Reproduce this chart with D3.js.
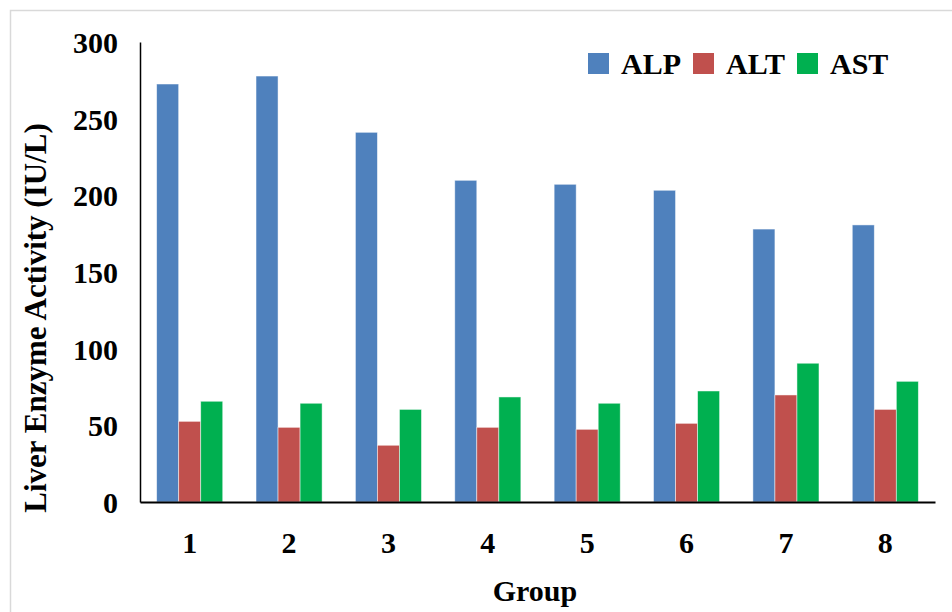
<!DOCTYPE html>
<html>
<head>
<meta charset="utf-8">
<script src="https://cdn.jsdelivr.net/npm/d3@7"></script>
<style>
  body { margin: 0; background: #fff; }
  svg text { font-family: "Liberation Serif", "DejaVu Serif", serif; font-weight: bold; fill: #000; }
</style>
</head>
<body>
<svg id="chart"></svg>
<script>
const groups = ["1", "2", "3", "4", "5", "6", "7", "8"];
const series = ["ALP", "ALT", "AST"];
const alp = [272.6, 277.8, 241.1, 209.8, 207.2, 203.3, 178, 180.7];
const alt = [52.6, 48.7, 37, 48.7, 47.4, 51.3, 69.8, 60.4];
const ast = [65.7, 64.4, 60.4, 68.5, 64.4, 72.4, 90.5, 78.7];
const yTicks = [0, 50, 100, 150, 200, 250, 300];
const colors = ["#4f81bd", "#c0504d", "#00b050"];

const width = 952, height = 612;
const plotLeft = 140, plotRight = 935, plotTop = 42, plotBottom = 502;

const svg = d3.select("#chart").attr("width", width).attr("height", height);

// light frame round the chart
svg.append("rect")
  .attr("x", 10.5).attr("y", 10.5)
  .attr("width", 960).attr("height", 640)
  .attr("fill", "none").attr("stroke", "#d9d9d9").attr("stroke-width", 1.5);

const x0 = d3.scaleBand().domain(groups).range([plotLeft, plotRight])
  .paddingInner(0.335).paddingOuter(0.1675);
const x1 = d3.scaleBand().domain(series).range([0, x0.bandwidth()]);
const y = d3.scaleLinear().domain([0, 300]).range([plotBottom, plotTop]);
const color = d3.scaleOrdinal().domain(series).range(colors);

const values = {ALP: alp, ALT: alt, AST: ast};
const rows = groups.map((g, i) => ({group: g, vals: series.map(s => ({key: s, value: values[s][i]}))}));

const g = svg.selectAll(".grp").data(rows).enter().append("g")
  .attr("transform", d => `translate(${x0(d.group)},0)`);

g.selectAll("rect").data(d => d.vals).enter().append("rect")
  .attr("x", d => x1(d.key))
  .attr("y", d => y(d.value))
  .attr("width", x1.bandwidth())
  .attr("height", d => y(0) - y(d.value))
  .attr("fill", d => color(d.key))
  .attr("stroke", "rgba(255,255,255,0.6)")
  .attr("stroke-width", 0.8);

// y axis
const yAxis = svg.append("g").attr("transform", `translate(${plotLeft},0)`)
  .call(d3.axisLeft(y).tickValues(yTicks).tickSize(0).tickPadding(22));
yAxis.select(".domain").attr("stroke", "#000").attr("stroke-width", 1.5);
yAxis.selectAll("text").style("font-size", "30px").attr("dy", "0.35em");

// x axis
const xAxis = svg.append("g").attr("transform", `translate(0,${plotBottom})`)
  .call(d3.axisBottom(x0).tickSize(0).tickPadding(30));
xAxis.select(".domain").attr("stroke", "#000").attr("stroke-width", 2);
xAxis.selectAll("text").style("font-size", "30px");

// axis titles
svg.append("text")
  .attr("transform", "translate(46,318) rotate(-90)")
  .attr("text-anchor", "middle")
  .style("font-size", "31px")
  .text("Liver Enzyme Activity (IU/L)");

svg.append("text")
  .attr("x", 535).attr("y", 601)
  .attr("text-anchor", "middle")
  .style("font-size", "30px")
  .text("Group");

// legend
const legendX = [588, 693, 797];
const leg = svg.selectAll(".leg").data(series).enter().append("g")
  .attr("transform", (d, i) => `translate(${legendX[i]},53)`);
leg.append("rect").attr("width", 21).attr("height", 21).attr("fill", d => color(d));
leg.append("text").attr("x", 33).attr("y", 21).style("font-size", "30px").text(d => d);
</script>
</body>
</html>
